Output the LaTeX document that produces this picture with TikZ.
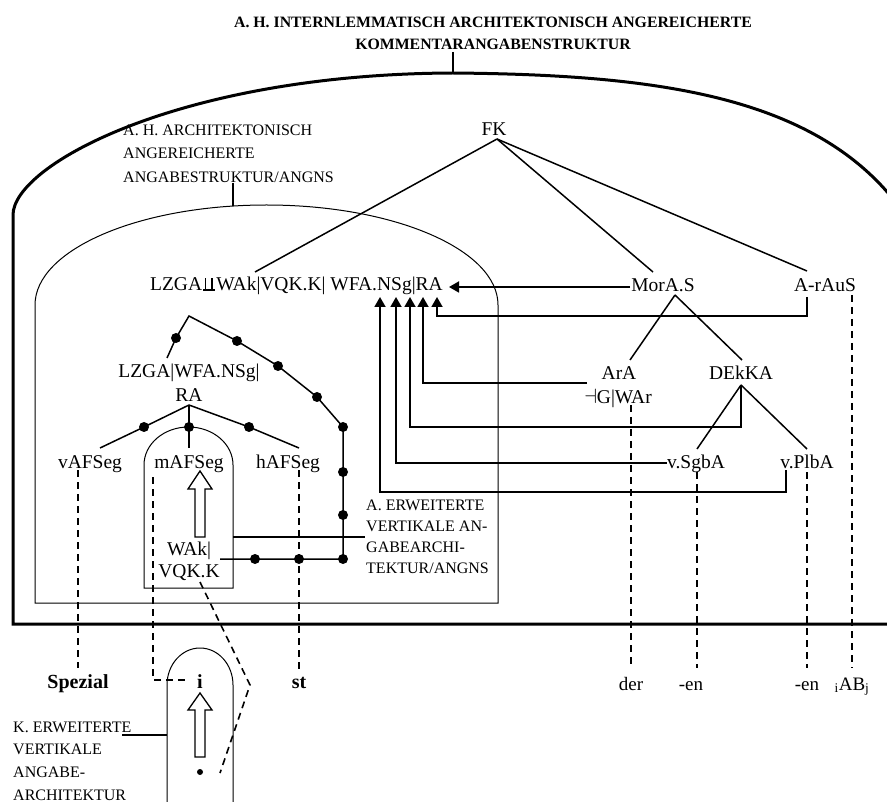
\documentclass[tikz,border=0pt]{standalone}
\usepackage{fontspec}
\setmainfont{Liberation Serif}
\usetikzlibrary{arrows.meta}
\newcommand\dupt{\mbox{\kern1pt\rlap{\rule{12pt}{1.3pt}}\kern2pt\rule{1.3pt}{13pt}\kern5pt\rule{1.3pt}{13pt}\kern3.7pt}}
\begin{document}
\begin{tikzpicture}[x=1pt,y=-1pt,
  lbl/.style={inner sep=0pt, anchor=base, font=\fontsize{19.5}{22}\selectfont},
  blbl/.style={inner sep=0pt, anchor=base, font=\fontsize{20}{22}\selectfont\bfseries},
  capt/.style={inner sep=0pt, anchor=north west, align=left},
  outerln/.style={line width=3pt},
  thinln/.style={line width=1pt},
  tree/.style={line width=1.5pt},
  conn/.style={line width=1.8pt, -{Triangle[length=10pt,width=11pt]}},
  dsh/.style={line width=1.6pt, dash pattern=on 7pt off 5pt},
  dotnode/.style={circle, fill, inner sep=0pt, minimum size=10pt},
  barrow/.style={line width=1.3pt, fill=white, line join=miter},
]
\useasboundingbox (0,0) rectangle (887,802);

% ---------- enclosing shapes ----------
\begin{scope}
\clip (0,0) rectangle (887,802);
\draw[outerln] (930,624) -- (13,624) -- (13,215) .. controls (13,165) and (180,74) .. (453,73)
      .. controls (680,75) and (860,100) .. (930,260) -- cycle;
\draw[thinln] (35,603) -- (35,305) arc[start angle=180,end angle=360,x radius=231.5,y radius=100] -- (498,603) -- cycle;
\draw[thinln] (144,588) -- (144,465) arc[start angle=180,end angle=360,x radius=44.5,y radius=38] -- (233,588) -- cycle;
\draw[thinln] (167,812) -- (167,685) arc[start angle=180,end angle=360,x radius=33,y radius=37] -- (233,812);
\end{scope}

% ---------- title ----------
\node[inner sep=0pt, anchor=north, align=center, font=\fontsize{15.8}{22}\selectfont\bfseries] (title) at (493,16.5)
  {A. H. INTERNLEMMATISCH ARCHITEKTONISCH ANGEREICHERTE\\KOMMENTARANGABENSTRUKTUR};
\coordinate (tstem) at (453,52);
\coordinate (otop) at (453,73);
\draw[line width=2.2pt] (tstem) -- (otop);

% ---------- captions ----------
\node[capt, font=\fontsize{16}{23.5}\selectfont] (ahcap) at (123,124.5)
  {A. H. ARCHITEKTONISCH\\ANGEREICHERTE\\ANGABESTRUKTUR/ANGNS};
\coordinate (ahs) at (233,183);
\coordinate (iatop) at (233,206);
\draw[line width=1.6pt] (ahs) -- (iatop);

\node[capt, font=\fontsize{16}{21}\selectfont] (aecap) at (366,499.5)
  {A. ERWEITERTE\\VERTIKALE AN-\\GABEARCHI-\\TEKTUR/ANGNS};
\coordinate (mboxR) at (233,537);
\coordinate (aecapW) at (365,537);
\draw[line width=1.3pt] (mboxR) -- (aecapW);

\node[capt, font=\fontsize{16}{22.7}\selectfont] (kecap) at (13,721.5)
  {K. ERWEITERTE\\VERTIKALE\\ANGABE-\\ARCHITEKTUR};
\coordinate (kecapE) at (122,735);
\coordinate (larchL) at (167,735);
\draw[line width=1.3pt] (kecapE) -- (larchL);

% ---------- main labels ----------
\node[lbl] (fk) at (494,136) {FK};
\node[lbl, anchor=base east] (lz) at (443,290.7) {LZGA\dupt WAk|VQK.K| WFA.NSg|RA};
\node[lbl] (mor) at (663,292) {MorA.S};
\node[lbl] (araus) at (825,292) {A-rAuS};
\node[lbl] (ara) at (619,380) {ArA};
\node[lbl] (dek) at (741,380) {DEkKA};
\node[lbl] (gwar) at (618,404) {$\dashv$G|WAr};
\node[lbl] (vsg) at (696,468) {v.SgbA};
\node[lbl] (vpl) at (807,468) {v.PlbA};
\node[lbl] (lzw) at (189,378) {LZGA|WFA.NSg|};
\node[lbl] (ra) at (189,402) {RA};
\node[lbl] (vaf) at (90,468) {vAFSeg};
\node[lbl] (maf) at (189,468) {mAFSeg};
\node[lbl] (haf) at (288,468) {hAFSeg};
\node[lbl] (wak) at (189,555) {WAk|};
\node[lbl] (vqk) at (189,577) {VQK.K};
\node[blbl] (spez) at (78,688) {Spezial};
\node[blbl] (ii) at (200,688) {i};
\node[blbl] (st) at (299,688) {st};
\node[lbl, font=\fontsize{19}{22}\selectfont] (der) at (631,690) {der};
\node[lbl, font=\fontsize{19}{22}\selectfont] (en1) at (691,690) {-en};
\node[lbl, font=\fontsize{19}{22}\selectfont] (en2) at (807,690) {-en};
\node[lbl, font=\fontsize{19}{22}\selectfont] (abj) at (852,690) {\textsubscript{i}AB\textsubscript{j}};

% ---------- FK tree ----------
\coordinate (fkS) at (497,139);
\coordinate (lzN) at (255,272);
\coordinate (morN) at (653,272);
\coordinate (arausN) at (807,271);
\draw[tree] (fkS) -- (lzN);
\draw[tree] (fkS) -- (morN);
\draw[tree] (fkS) -- (arausN);

\coordinate (morS) at (675,295);
\coordinate (araN) at (630,360);
\coordinate (dekN) at (742,360);
\draw[tree] (morS) -- (araN);
\draw[tree] (morS) -- (dekN);
\coordinate (dekS) at (741,385);
\coordinate (vsgN) at (697,449);
\coordinate (vplN) at (807,449);
\draw[tree] (dekS) -- (vsgN);
\draw[tree] (dekS) -- (vplN);

% ---------- arrows into RA ----------
\coordinate (morW) at (630,287);
\coordinate (lzE) at (449,287);
\draw[conn] (morW) -- (lzE);
\coordinate (t1) at (380,297);
\coordinate (t2) at (396,297);
\coordinate (t3) at (410,297);
\coordinate (t4) at (423,297);
\coordinate (t5) at (437,297);
\coordinate (arausS) at (807,297);
\coordinate (araW) at (587,383);
\coordinate (vsgW) at (667,463);
\coordinate (vplS) at (786,470);
\draw[conn] (arausS) -- ++(0,19) -| (t5);
\draw[conn] (araW) -| (t4);
\draw[conn] (dekS) -- ++(0,42) -| (t3);
\draw[conn] (vsgW) -| (t2);
\draw[conn] (vplS) -- ++(0,22) -| (t1);

% ---------- dotted chain ----------
\coordinate (apex) at (189,316);
\coordinate (lzwN) at (167,358);
\node[dotnode] (p1) at (176,338) {};
\node[dotnode] (q1) at (237,341) {};
\node[dotnode] (q2) at (278,366) {};
\node[dotnode] (q3) at (317,397) {};
\node[dotnode] (q4) at (343,427) {};
\node[dotnode] (q5) at (343,472) {};
\node[dotnode] (q6) at (343,515) {};
\node[dotnode] (q7) at (343,559) {};
\node[dotnode] (q8) at (299,559) {};
\node[dotnode] (q9) at (255,559) {};
\coordinate (wakE) at (220,559);
\draw[tree] (lzwN) -- (p1.center) -- (apex) -- (q1.center) -- (q2.center) -- (q3.center) -- (q4.center)
  -- (q5.center) -- (q6.center) -- (q7.center) -- (q8.center) -- (q9.center) -- (wakE);

\coordinate (raS) at (189,405);
\node[dotnode] (r1) at (144,427) {};
\node[dotnode] (r2) at (189,427) {};
\node[dotnode] (r3) at (249,427) {};
\coordinate (vafN) at (100,448);
\coordinate (mafN) at (189,448);
\coordinate (hafN) at (299,448);
\draw[tree] (raS) -- (r1.center) -- (vafN);
\draw[tree] (raS) -- (r2.center) -- (mafN);
\draw[tree] (raS) -- (r3.center) -- (hafN);

% ---------- block arrows ----------
\draw[barrow] (195,537) -- (195,489) -- (188,489) -- (200,471) -- (212,489) -- (205,489) -- (205,537) -- cycle;
\draw[barrow] (195,757) -- (195,710) -- (188,710) -- (200,693) -- (212,710) -- (205,710) -- (205,757) -- cycle;
\node[circle, fill, inner sep=0pt, minimum size=6pt] (bdot) at (200,772) {};

% ---------- dashed lines ----------
\coordinate (d1a) at (78,470);   \coordinate (d1b) at (78,668);
\coordinate (d2a) at (153,477);  \coordinate (d2b) at (153,680); \coordinate (d2c) at (187,680);
\coordinate (d3a) at (299,470);  \coordinate (d3b) at (299,670);
\coordinate (d4a) at (200,582);  \coordinate (d4b) at (250,685); \coordinate (d4c) at (220,773);
\coordinate (d5a) at (631,405);  \coordinate (d5b) at (631,668);
\coordinate (d6a) at (697,472);  \coordinate (d6b) at (697,668);
\coordinate (d7a) at (807,472);  \coordinate (d7b) at (807,668);
\coordinate (d8a) at (852,295);  \coordinate (d8b) at (852,668);
\draw[dsh] (d1a) -- (d1b);
\draw[dsh] (d2a) -- (d2b) -- (d2c);
\draw[dsh] (d3a) -- (d3b);
\draw[dsh] (d4a) -- (d4b) -- (d4c);
\draw[dsh] (d5a) -- (d5b);
\draw[dsh] (d6a) -- (d6b);
\draw[dsh] (d7a) -- (d7b);
\draw[dsh] (d8a) -- (d8b);
\end{tikzpicture}
\end{document}
